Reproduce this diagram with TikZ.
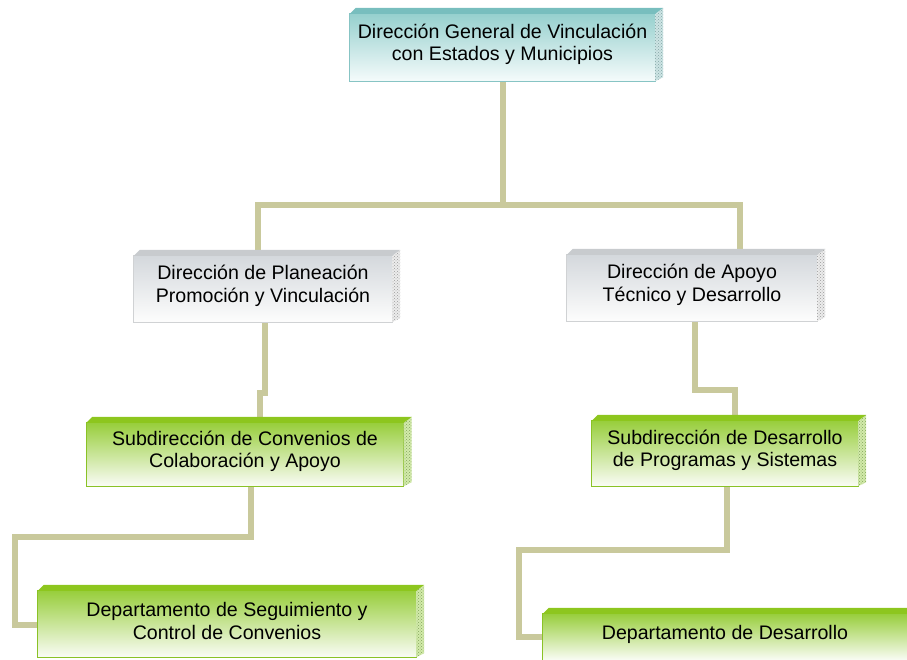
\documentclass[tikz,border=0pt]{standalone}
\usepackage{fontspec}
\setmainfont{Liberation Sans}
\usetikzlibrary{calc,patterns}
\pgfdeclarelayer{connlayer}
\pgfdeclarelayer{boxlayer}
\pgfsetlayers{connlayer,boxlayer,main}

% teal scheme
\definecolor{cAband}{RGB}{120,190,190}
\definecolor{cAtop}{RGB}{150,208,206}
\definecolor{cAbot}{RGB}{245,251,251}
\definecolor{cAborder}{RGB}{135,196,196}
\definecolor{cAside}{RGB}{205,228,228}
\definecolor{cAdot}{RGB}{130,165,165}
% grey scheme
\definecolor{cBband}{RGB}{200,203,206}
\definecolor{cBtop}{RGB}{212,216,220}
\definecolor{cBbot}{RGB}{253,253,253}
\definecolor{cBborder}{RGB}{208,210,212}
\definecolor{cBside}{RGB}{236,236,236}
\definecolor{cBdot}{RGB}{155,155,155}
% green scheme
\definecolor{cCband}{RGB}{141,198,30}
\definecolor{cCtop}{RGB}{152,206,60}
\definecolor{cCbot}{RGB}{250,252,246}
\definecolor{cCborder}{RGB}{138,194,38}
\definecolor{cCside}{RGB}{210,234,170}
\definecolor{cCdot}{RGB}{130,165,90}
% connectors
\definecolor{connc}{RGB}{201,201,156}

\newcommand\bxfont{\fontsize{19.6}{22.5}\selectfont}

% #1 node name, #2 scheme prefix
\newcommand\drawprism[2]{%
  \begin{pgfonlayer}{boxlayer}
    \path[top color=#2top, bottom color=#2bot, draw=#2border, line width=1.2pt]
      ($(#1.north west)+(0,-6pt)$) -- ($(#1.north east)+(0,-6pt)$)
      -- (#1.south east) -- (#1.south west) -- cycle;
    \fill[#2side]
      ($(#1.north east)+(0,-6pt)$) -- ($(#1.north east)+(8pt,0)$)
      -- ($(#1.south east)+(8pt,4pt)$) -- (#1.south east) -- cycle;
    \fill[pattern=crosshatch dots, pattern color=#2dot]
      ($(#1.north east)+(0,-6pt)$) -- ($(#1.north east)+(8pt,0)$)
      -- ($(#1.south east)+(8pt,4pt)$) -- (#1.south east) -- cycle;
    \fill[#2band]
      ($(#1.north west)+(0,-6pt)$) -- ($(#1.north west)+(6pt,0)$)
      -- ($(#1.north east)+(8pt,0)$) -- ($(#1.north east)+(0,-6pt)$) -- cycle;
  \end{pgfonlayer}}

\tikzset{
  box/.style={align=center, inner sep=0pt, font=\bxfont, text=black},
  conn/.style={draw=connc, line width=6pt, line join=miter}
}

\begin{document}
\begin{tikzpicture}[x=1pt, y=-1pt]
\useasboundingbox (0,0) rectangle (907,660);

\node[box, minimum width=305pt, minimum height=73pt] (B1) at (502.5,44.5)
  {Dirección General de Vinculación\\con Estados y Municipios};
\node[box, minimum width=258pt, minimum height=72pt] (B2) at (263,286)
  {Dirección de Planeación\\Promoción y Vinculación};
\node[box, minimum width=250pt, minimum height=72pt] (B3) at (692,285)
  {Dirección de Apoyo\\Técnico y Desarrollo};
\node[box, minimum width=317pt, minimum height=69pt] (B4) at (245,451.5)
  {Subdirección de Convenios de\\Colaboración y Apoyo};
\node[box, minimum width=266pt, minimum height=71pt] (B5) at (725,450.5)
  {Subdirección de Desarrollo\\de Programas y Sistemas};
\node[box, minimum width=378pt, minimum height=72pt] (B6) at (227,621)
  {Departamento de Seguimiento y\\Control de Convenios};
\node[box, minimum width=364pt, minimum height=52pt] (B7) at (725,634)
  {Departamento de Desarrollo};

\drawprism{B1}{cA}
\drawprism{B2}{cB}
\drawprism{B3}{cB}
\drawprism{B4}{cC}
\drawprism{B5}{cC}
\drawprism{B6}{cC}
\drawprism{B7}{cC}

\coordinate (hub) at (503,205);
\coordinate (c4) at (15,537);
\coordinate (c5) at (519,550);

\begin{pgfonlayer}{connlayer}
  \draw[conn] (B1.south) -- (B1.south |- hub) -| ($(B2.north)+(-5pt,0)$);
  \draw[conn] (B1.south |- hub) -| ($(B3.north)+(48pt,0)$);
  \draw[conn] ($(B2.south)+(2pt,0)$) -- ++(0,71) -| ($(B4.north)+(15pt,0)$);
  \draw[conn] ($(B3.south)+(3pt,0)$) -- ++(0,69) -| ($(B5.north)+(10pt,0)$);
  \draw[conn] ($(B4.south)+(6pt,0)$) |- (c4) |- ($(B6.west)+(0,-4pt)$);
  \draw[conn] ($(B5.south)+(2pt,0)$) |- (c5) |- ($(B7.west)+(0,-3pt)$);
\end{pgfonlayer}
\end{tikzpicture}
\end{document}
